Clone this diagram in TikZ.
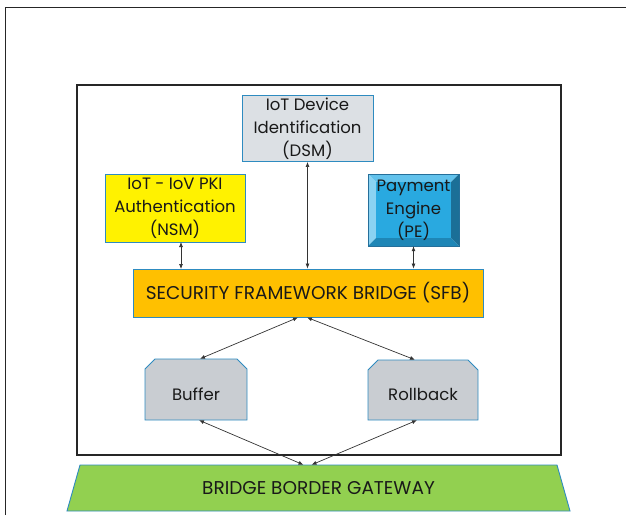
\documentclass[tikz,border=0pt]{standalone}
\usepackage{fontspec}
\setmainfont{Poppins}
\usetikzlibrary{arrows.meta,calc}
\definecolor{bordblue}{HTML}{2E8BC0}
\definecolor{dsmgray}{HTML}{DCE0E4}
\definecolor{sfborange}{HTML}{FFC000}
\definecolor{bufgray}{HTML}{C9CDD2}
\definecolor{gwgreen}{HTML}{92D050}
\definecolor{peface}{HTML}{29A9E0}
\definecolor{petop}{HTML}{62C2EC}
\definecolor{peleft}{HTML}{8AD2F2}
\definecolor{peright}{HTML}{1B6F97}
\definecolor{pebottom}{HTML}{1E86B6}
\definecolor{linegray}{HTML}{333333}
\begin{document}
\begin{tikzpicture}[x=1pt,y=-1pt,
  box/.style={draw=bordblue, line width=0.9pt, inner sep=0pt, align=center,
    font=\fontsize{16.5}{23}\selectfont, text=black!90},
  plain/.style={inner sep=0pt, align=center, font=\fontsize{16.5}{23}\selectfont, text=black!90},
  caps/.style={font=\fontsize{18.5}{23}\selectfont},
  conn/.style={draw=linegray, line width=0.7pt, {Latex[length=5pt,width=4pt]}-{Latex[length=5pt,width=4pt]}}]
\useasboundingbox (0,0) rectangle (626,515);
% outer frame
\draw[line width=1.4pt, black!85] (5.5,515) -- (5.5,7.5) -- (626,7.5);
% inner frame
\draw[line width=1.6pt, black!85] (77,85) rectangle (561,455);

% DSM
\node[box, fill=dsmgray, minimum width=131pt, minimum height=66pt] (dsm) at (307.5,128.5)
  {IoT Device\\Identification\\(DSM)};
% NSM
\node[box, fill=yellow, minimum width=140pt, minimum height=68pt] (nsm) at (175,208)
  {IoT - IoV PKI\\Authentication\\(NSM)};
% PE bevelled
\fill[petop] (368,174) -- (459,174) -- (451,182) -- (376,182) -- cycle;
\fill[peleft] (368,174) -- (376,182) -- (376,238) -- (368,246) -- cycle;
\fill[peright] (459,174) -- (459,246) -- (451,238) -- (451,182) -- cycle;
\fill[pebottom] (368,246) -- (459,246) -- (451,238) -- (376,238) -- cycle;
\fill[peface] (376,182) rectangle (451,238);
\draw[bordblue!80!black, line width=0.6pt] (368,174) rectangle (459,246);
\node[plain, minimum width=91pt, minimum height=72pt] (pe) at (413.5,210)
  {Payment\\Engine\\(PE)};
% SFB
\node[box, caps, fill=sfborange, minimum width=350pt, minimum height=48pt] (sfb) at (308,293)
  {SECURITY FRAMEWORK BRIDGE (SFB)};
% Buffer
\node[plain, minimum width=102pt, minimum height=61pt] (buf) at (196,389.5) {};
\filldraw[fill=bufgray, draw=bordblue, line width=0.9pt]
  (145,369) -- (155,359) -- (237,359) -- (247,369) -- (247,420) -- (145,420) -- cycle;
\node[plain] at (196,394) {Buffer};
% Rollback
\node[plain, minimum width=110pt, minimum height=60pt] (rb) at (423,390) {};
\filldraw[fill=bufgray, draw=bordblue, line width=0.9pt]
  (368,370) -- (378,360) -- (468,360) -- (478,370) -- (478,420) -- (368,420) -- cycle;
\node[plain] at (423,394) {Rollback};
% Gateway
\node[plain, minimum width=490pt, minimum height=46pt] (gw) at (318.5,488) {};
\filldraw[fill=gwgreen, draw=bordblue, line width=0.9pt]
  (80,465) -- (557,465) -- (570,511) -- (67,511) -- cycle;
\node[plain, caps] at (318.5,488) {BRIDGE BORDER GATEWAY};

% connectors
\draw[conn] (dsm.south) -- (dsm.south |- sfb.north);
\draw[conn] (181,242) -- (181,269);
\draw[conn] (pe.south) -- (pe.south |- sfb.north);
\draw[conn] ($(buf.north)+(4,0)$) -- ($(sfb.south)+(-10,0)$);
\draw[conn] ($(sfb.south)+(-1,0)$) -- ($(rb.north)+(-8,0)$);
\draw[conn] ($(buf.south)+(3,0)$) -- ($(gw.north)+(-15,0)$);
\draw[conn] ($(rb.south)+(-6,0)$) -- ($(gw.north)+(-7,0)$);
\end{tikzpicture}
\end{document}
